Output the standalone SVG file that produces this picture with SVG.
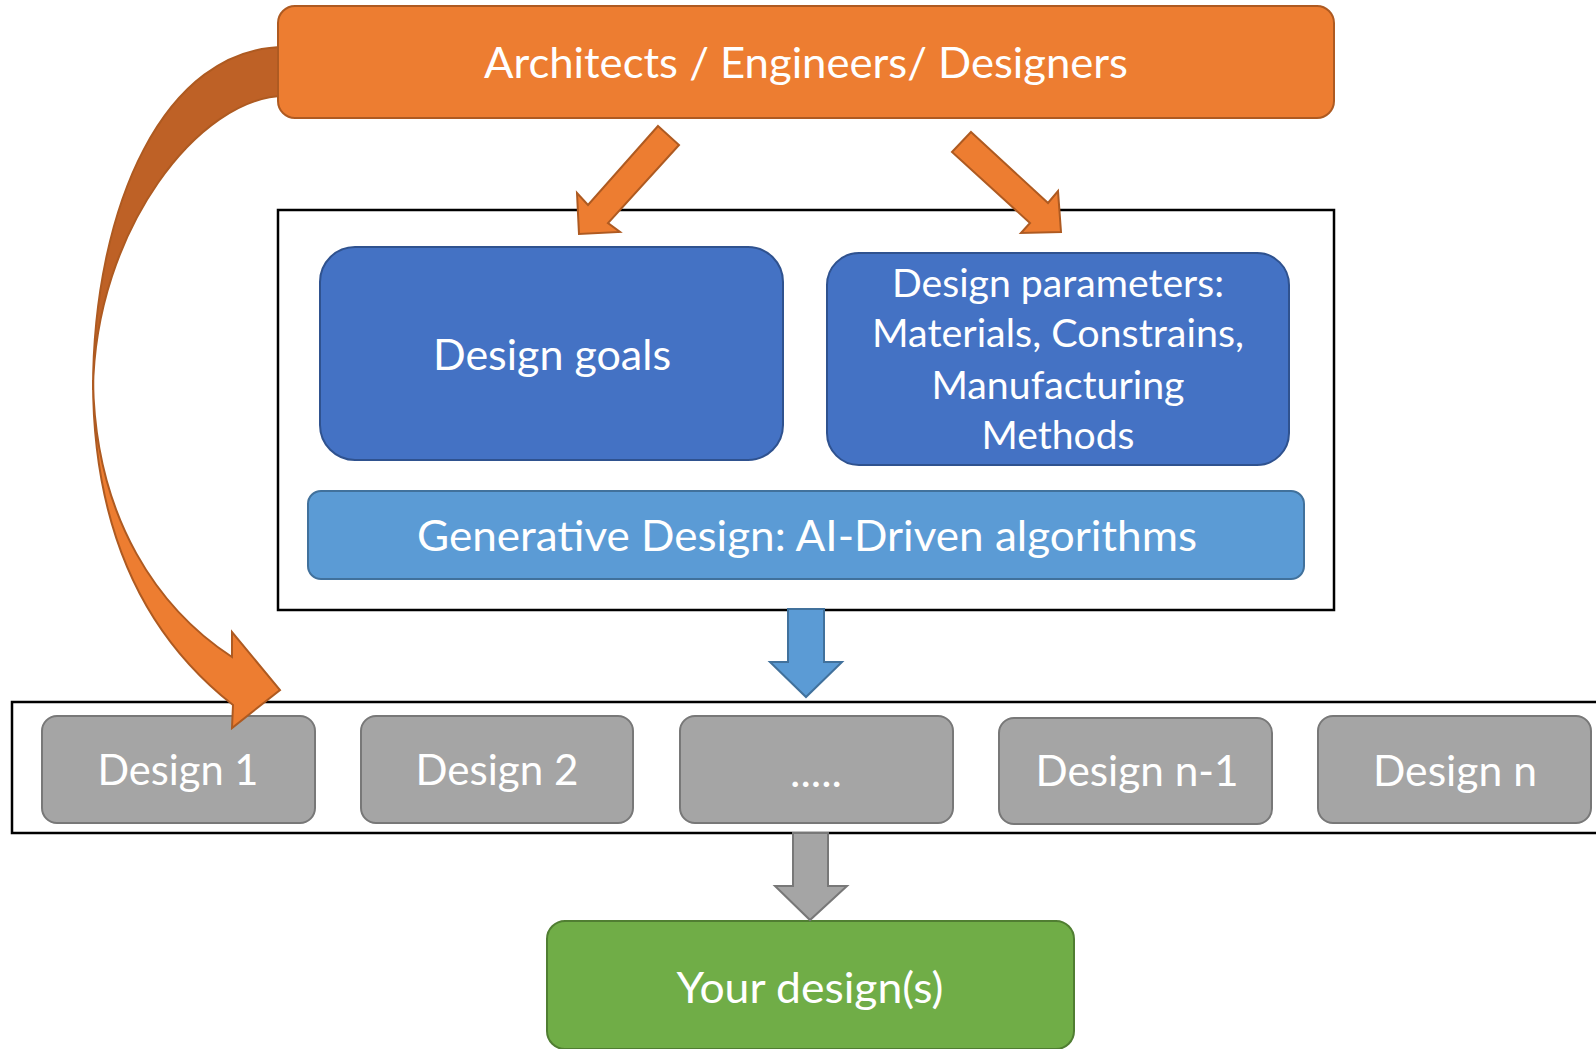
<svg xmlns="http://www.w3.org/2000/svg" width="1596" height="1049" viewBox="0 0 1596 1049">
<style>
.t{font-family:Lato,"Open Sans","Liberation Sans",sans-serif;fill:#ffffff;text-anchor:middle}
.big{font-size:42px}
.mid{font-size:38px}
.frame{fill:none;stroke:#000;stroke-width:2.5}
.orange{fill:#ED7D31;stroke:#AE5A21;stroke-width:2}
.dark{fill:#BE6126;stroke:#AE5A21;stroke-width:2}
.blue{fill:#4472C4;stroke:#2F528F;stroke-width:2}
.lblue{fill:#5B9BD5;stroke:#41719C;stroke-width:2}
.gray{fill:#A5A5A5;stroke:#787878;stroke-width:2}
.green{fill:#70AD47;stroke:#507E32;stroke-width:2}
</style>
<rect width="1596" height="1049" fill="#ffffff"/>
<g id="frames">
<rect class="frame" x="278" y="210" width="1056" height="400"/>
<rect class="frame" x="12" y="702" width="1600" height="131"/>
</g>
<g id="connectors-back">
<path class="dark" d="M285,47 C165,47 93,205 93,390 C95,230 200,96 285,96 Z"/>
</g>
<g id="architects">
<rect class="orange" x="278" y="6" width="1056" height="112" rx="17"/>
<text class="t big" x="806" y="78" textLength="644" lengthAdjust="spacingAndGlyphs">Architects / Engineers/ Designers</text>
</g>
<g id="design-goals">
<rect class="blue" x="320" y="247" width="463" height="213" rx="35"/>
<text class="t big" x="552" y="370" textLength="238" lengthAdjust="spacingAndGlyphs">Design goals</text>
</g>
<g id="design-parameters">
<rect class="blue" x="827" y="253" width="462" height="212" rx="32"/>
<text class="t mid" x="1058" y="297" textLength="332" lengthAdjust="spacingAndGlyphs">Design parameters:</text>
<text class="t mid" x="1058" y="347" textLength="372" lengthAdjust="spacingAndGlyphs">Materials, Constrains,</text>
<text class="t mid" x="1058" y="399" textLength="253" lengthAdjust="spacingAndGlyphs">Manufacturing</text>
<text class="t mid" x="1058" y="449" textLength="153" lengthAdjust="spacingAndGlyphs">Methods</text>
</g>
<g id="generative">
<rect class="lblue" x="308" y="491" width="996" height="88" rx="13"/>
<text class="t big" x="807" y="551" textLength="780" lengthAdjust="spacingAndGlyphs">Generative Design: AI-Driven algorithms</text>
</g>
<g id="design-1">
<rect class="gray" x="42" y="716" width="273" height="107" rx="15"/>
<text class="t big" x="178" y="785" textLength="161" lengthAdjust="spacingAndGlyphs">Design 1</text>
</g>
<g id="design-2">
<rect class="gray" x="361" y="716" width="272" height="107" rx="15"/>
<text class="t big" x="497" y="785" textLength="163" lengthAdjust="spacingAndGlyphs">Design 2</text>
</g>
<g id="design-dots">
<rect class="gray" x="680" y="716" width="273" height="107" rx="15"/>
<text class="t big" x="816" y="787" textLength="52" lengthAdjust="spacingAndGlyphs">.....</text>
</g>
<g id="design-n-1">
<rect class="gray" x="999" y="718" width="273" height="106" rx="15"/>
<text class="t big" x="1137" y="786" textLength="203" lengthAdjust="spacingAndGlyphs">Design n-1</text>
</g>
<g id="design-n">
<rect class="gray" x="1318" y="716" width="273" height="107" rx="15"/>
<text class="t big" x="1455" y="786" textLength="164" lengthAdjust="spacingAndGlyphs">Design n</text>
</g>
<g id="your-designs">
<rect class="green" x="547" y="921" width="527" height="128" rx="18"/>
<text class="t big" x="810" y="1003" textLength="267" lengthAdjust="spacingAndGlyphs">Your design(s)</text>
</g>
<g id="connectors">
<polygon class="orange" points="658,126 679,145 608,223 620,232 579,234 577,193 588,205"/>
<polygon class="orange" points="971,132 1048,203 1058,191 1061,232 1021,233 1030,223 952,152"/>
<polygon class="lblue" points="788,609 824,609 824,662 842,662 806,697 770,662 788,662"/>
<polygon class="gray" points="793,833 828,833 828,886 847,886 810,920 775,886 793,886"/>
<path class="orange" d="M93,380 C93,540 150,640 233,705 L232,728 L280,690 L232,632 L232,657 C160,610 95,520 93,380 Z"/>
</g>
</svg>
